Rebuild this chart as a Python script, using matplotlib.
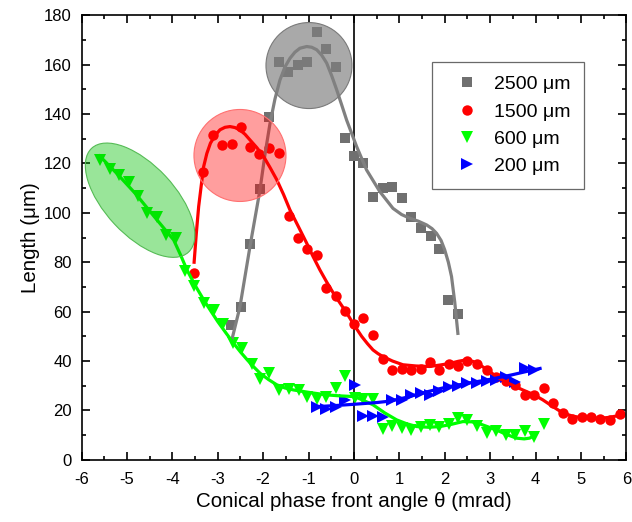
import matplotlib
matplotlib.use("Agg")
import matplotlib.pyplot as plt
import matplotlib.transforms as transforms
from matplotlib.patches import Ellipse
from matplotlib.ticker import MultipleLocator

plt.rcParams['font.family'] = ['Liberation Sans', 'DejaVu Sans']
plt.rcParams['axes.unicode_minus'] = False

# measured points
x_2500 = [-2.70, -2.49, -2.28, -2.07, -1.87, -1.66, -1.46, -1.24, -1.03, -0.82, -0.62, -0.40,
          -0.20, 0.0, 0.21, 0.42, 0.63, 0.84, 1.05, 1.26, 1.47, 1.69, 1.88, 2.08, 2.29]
y_2500 = [54.7, 61.8, 87.4, 109.6, 138.7, 160.9, 156.9, 159.9, 160.9, 173.1, 166.3, 159.0,
          130.2, 122.8, 120.2, 106.2, 109.9, 110.5, 105.8, 98.5, 94.0, 90.6, 85.3, 64.8, 59.0]

x_1500 = [-3.52, -3.33, -3.11, -2.90, -2.69, -2.48, -2.28, -2.08, -1.86, -1.66, -1.44, -1.24,
          -1.03, -0.82, -0.62, -0.40, -0.20, 0.0, 0.21, 0.42, 0.63, 0.84, 1.05, 1.25, 1.47,
          1.67, 1.87, 2.09, 2.29, 2.50, 2.72, 2.93, 3.14, 3.34, 3.55, 3.76, 3.96, 4.18, 4.38,
          4.60, 4.81, 5.02, 5.22, 5.43, 5.63, 5.85]
y_1500 = [75.8, 116.5, 131.6, 127.5, 127.9, 134.9, 126.7, 124.0, 126.3, 124.2, 98.9, 89.6,
          85.3, 83.0, 69.5, 66.5, 60.4, 54.9, 57.6, 50.5, 40.9, 36.2, 36.7, 36.4, 36.7,
          39.7, 36.2, 38.9, 37.8, 40.0, 38.7, 36.4, 33.7, 32.1, 30.4, 26.3, 26.3, 28.9, 23.2,
          19.1, 16.7, 17.3, 17.3, 16.5, 16.2, 18.6]

x_600 = [-5.60, -5.38, -5.17, -4.96, -4.75, -4.56, -4.34, -4.13, -3.92, -3.73, -3.52, -3.30,
         -3.09, -2.89, -2.67, -2.47, -2.25, -2.07, -1.86, -1.66, -1.44, -1.22, -1.03, -0.82,
         -0.62, -0.40, -0.20, 0.02, 0.21, 0.42, 0.63, 0.84, 1.05, 1.25, 1.47, 1.67, 1.87,
         2.09, 2.29, 2.50, 2.72, 2.93, 3.14, 3.34, 3.55, 3.76, 3.96, 4.18]
y_600 = [121.2, 117.7, 115.4, 112.3, 106.9, 99.9, 98.1, 91.1, 89.8, 76.4, 70.2, 63.4,
         60.7, 55.1, 47.2, 45.2, 38.9, 32.7, 35.1, 28.3, 28.6, 28.3, 25.6, 24.6,
         25.6, 29.0, 34.0, 25.0, 24.5, 24.5, 12.5, 13.8, 12.8, 12.1, 13.5, 14.2, 13.5,
         14.6, 16.9, 16.2, 13.8, 10.8, 11.5, 10.1, 10.1, 11.5, 9.4, 14.6]

x_200 = [-0.82, -0.62, -0.40, -0.20, 0.02, 0.21, 0.42, 0.63, 0.84, 1.05, 1.26, 1.47, 1.67,
         1.87, 2.09, 2.29, 2.50, 2.72, 2.93, 3.14, 3.34, 3.55, 3.76, 3.96]
y_200 = [21.6, 20.5, 21.6, 24.2, 30.4, 17.8, 17.8, 17.3, 24.3, 24.3, 26.3, 27.2, 26.3,
         28.0, 29.4, 29.7, 31.3, 31.0, 32.1, 32.4, 33.7, 31.7, 37.1, 36.4]

# fitted curves
cx_2500 = [-2.69, -2.51, -2.29, -2.07, -1.96, -1.85, -1.74, -1.63, -1.52, -1.41, -1.30, -1.19,
           -1.04, -0.93, -0.82, -0.71, -0.60, -0.49, -0.38, -0.27, -0.16, 0.06, 0.28, 0.57,
           0.86, 1.05, 1.23, 1.42, 1.60, 1.72, 1.82, 1.92, 2.00, 2.08, 2.15, 2.22, 2.29]
cy_2500 = [48.5, 62.0, 86.3, 109.2, 123.5, 136.0, 146.0, 153.7, 159.0, 162.5, 165.0, 166.6,
           167.3, 167.0, 166.0, 163.8, 160.6, 155.5, 149.8, 143.7, 137.5, 126.8, 117.3, 108.6,
           101.8, 99.3, 97.8, 96.6, 95.1, 93.6, 91.7, 88.8, 85.0, 80.0, 74.2, 64.0, 51.2]

cx_1500 = [-3.52, -3.47, -3.42, -3.36, -3.31, -3.24, -3.16, -3.05, -2.95, -2.84, -2.73, -2.62,
           -2.51, -2.40, -2.29, -2.14, -1.99, -1.85, -1.70, -1.55, -1.41, -1.22, -1.04, -0.90,
           -0.75, -0.60, -0.45, -0.30, -0.16, 0.0, 0.17, 0.30, 0.42, 0.53, 0.64, 0.85, 1.08,
           1.37, 1.67, 1.90, 2.10, 2.30, 2.48, 2.63, 2.77, 2.95, 3.14, 3.40, 3.72, 3.95, 4.16,
           4.38, 4.60, 4.80, 5.03, 5.20, 5.40, 5.62, 5.85]
cy_1500 = [80.0, 92.0, 102.5, 111.5, 118.7, 124.0, 128.2, 131.5, 133.6, 134.6, 134.9, 134.5,
           133.5, 131.8, 129.5, 126.4, 122.8, 118.4, 113.4, 107.4, 101.2, 94.3, 87.7, 82.3,
           76.9, 72.0, 67.4, 63.3, 59.5, 54.7, 50.0, 47.0, 44.5, 43.0, 41.8, 40.0, 38.5,
           38.0, 37.8, 38.4, 39.0, 39.9, 40.5, 39.8, 38.5, 36.3, 33.7, 31.0, 28.3, 26.5, 24.3,
           21.6, 19.0, 17.8, 17.0, 16.8, 16.8, 17.2, 18.0]

cx_600 = [-5.60, -5.20, -4.80, -4.40, -3.97, -3.82, -3.68, -3.50, -3.31, -3.15, -3.00, -2.82,
          -2.65, -2.50, -2.35, -2.21, -2.07, -1.88, -1.70, -1.52, -1.33, -0.95, -0.60, -0.30,
          0.02, 0.22, 0.42, 0.68, 0.94, 1.15, 1.38, 1.65, 1.90, 2.15, 2.40, 2.60, 2.77, 2.95,
          3.14, 3.36, 3.58, 3.75, 3.87, 3.95, 4.02]
cy_600 = [123.0, 115.5, 107.5, 98.5, 89.0, 83.0, 77.0, 70.7, 64.8, 60.2, 56.0, 51.4,
          47.2, 43.7, 40.5, 37.7, 35.1, 32.5, 30.4, 29.1, 28.3, 27.2, 26.3, 25.9,
          25.6, 24.0, 22.3, 19.0, 16.2, 14.7, 13.5, 13.2, 13.5, 14.4, 15.5, 15.4, 14.6, 13.4,
          12.1, 10.3, 8.8, 8.5, 8.8, 9.6, 10.8]

cx_200 = [-0.86, -0.40, 0.0, 0.50, 0.80, 1.20, 1.60, 2.00, 2.50, 3.00, 3.50, 3.90, 4.10]
cy_200 = [21.5, 22.0, 22.5, 23.2, 23.8, 25.5, 27.5, 29.3, 31.0, 32.6, 34.5, 36.2, 37.0]

fig = plt.figure(figsize=(6.32, 5.22), dpi=100)
ax = fig.add_axes([0.129, 0.119, 0.862, 0.852])

ax.axvline(0, color='black', lw=1.2, zorder=1)

ax.plot(cx_2500, cy_2500, color='#808080', lw=2.3, zorder=3)
ax.plot(cx_1500, cy_1500, color='#ff0000', lw=2.3, zorder=3)
ax.plot(cx_600, cy_600, color='#00ff00', lw=2.3, zorder=3)
ax.plot(cx_200, cy_200, color='#0000ff', lw=2.3, zorder=3)

ax.plot(x_2500, y_2500, 's', color='#707070', ms=6.5, mew=0, label='2500 \u03bcm', zorder=2)
ax.plot(x_1500, y_1500, 'o', color='#ff0000', ms=7.5, mew=0, label='1500 \u03bcm', zorder=2)
ax.plot(x_600, y_600, 'v', color='#00ff00', ms=8.5, mew=0, label='600 \u03bcm', zorder=2)
ax.plot(x_200, y_200, '>', color='#0000ff', ms=8.5, mew=0, label='200 \u03bcm', zorder=2)

# highlight circles, sized in inches around a data point
def mark(x, y, w, h, angle, face, edge, alpha):
    trans = fig.dpi_scale_trans + transforms.ScaledTranslation(x, y, ax.transData)
    e = Ellipse((0, 0), w, h, angle=angle, transform=trans, facecolor=face,
                edgecolor='none', alpha=alpha, zorder=4)
    ax.add_patch(e)
    e2 = Ellipse((0, 0), w, h, angle=angle, transform=trans, facecolor='none',
                 edgecolor=edge, lw=0.8, zorder=4)
    ax.add_patch(e2)

mark(-0.99, 159.6, 0.86, 0.86, 0, '#808080', '#7a7a7a', 0.68)
mark(-2.51, 123.2, 0.92, 0.92, 0, '#ff0000', '#ff7070', 0.38)
mark(-4.71, 105.1, 1.42, 0.70, -47, '#00c000', '#55bb55', 0.4)

ax.set_xlim(-6, 6)
ax.set_ylim(0, 180)
ax.xaxis.set_major_locator(MultipleLocator(1))
ax.xaxis.set_minor_locator(MultipleLocator(0.5))
ax.yaxis.set_major_locator(MultipleLocator(20))
ax.yaxis.set_minor_locator(MultipleLocator(10))
ax.tick_params(which='both', direction='in', top=True, right=True, width=1.2)
ax.tick_params(which='major', length=6, labelsize=12)
ax.tick_params(which='minor', length=3)
ax.tick_params(axis='x', which='major', pad=9)
ax.tick_params(axis='y', which='major', pad=7)
for s in ax.spines.values():
    s.set_linewidth(1.2)

ax.set_xlabel('Conical phase front angle \u03b8 (mrad)', fontsize=14.8, labelpad=3)
ax.set_ylabel('Length (\u03bcm)', fontsize=14.8, labelpad=3)

leg = ax.legend(loc='upper left', bbox_to_anchor=(0.643, 0.8945), fontsize=14,
                frameon=True, fancybox=False, edgecolor='#444444', handlelength=2.2,
                handletextpad=0.3, borderpad=0.7, labelspacing=0.5, borderaxespad=0)
leg.get_frame().set_linewidth(0.9)

fig.savefig('out.png', dpi=100)
